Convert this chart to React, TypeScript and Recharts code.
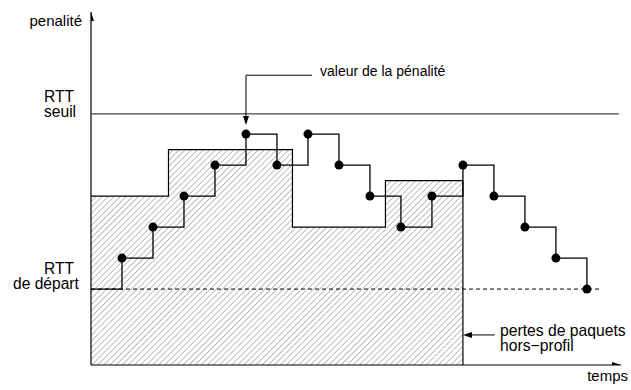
import React from 'react';
import { ComposedChart, Area, Line, Scatter, XAxis, YAxis, ReferenceLine } from 'recharts';

// time axis runs 0..17.1, penalty axis in "steps" above the starting RTT
const T_MAX = 17.1;
const Y_MIN = -2.45;
const Y_MAX = 8.94;
const RTT_START = 0;
const RTT_THRESHOLD = 5.65;

// hatched profile (stepAfter)
const profileTimes = [0, 2.5, 6.5, 9.5, 12];
const profileValues = [3, 4.5, 2, 3.5, 3.5];

// penalty value at each time step
const penaltyTimes = [0, 1, 2, 3, 4, 5, 6, 7, 8, 9, 10, 11, 12, 13, 14, 15, 16];
const penaltyValues = [0, 1, 2, 3, 4, 5, 4, 5, 4, 3, 2, 3, 4, 3, 2, 1, 0];

// arrow heads: axes ends + annotation pointers
const arrowTimes = [0, T_MAX, 5, 12];
const arrowValues = [Y_MAX, Y_MIN, 5.29, -1.48];
const arrowDirs = ['up', 'right', 'down', 'left'];

const profileData = profileTimes.map((t, i) => ({ t, v: profileValues[i] }));
const penaltyData = penaltyTimes.map((t, i) => ({ t, v: penaltyValues[i] }));
const arrowData = arrowTimes.map((t, i) => ({ t, v: arrowValues[i], dir: arrowDirs[i] }));

const FONT = '"Liberation Sans", Arial, sans-serif';

const ArrowHead = (props: any) => {
  const { cx, cy, payload } = props;
  const L = 9;
  const W = 3;
  let pts = '';
  if (payload.dir === 'up') pts = `${cx},${cy} ${cx - W},${cy + L} ${cx + W},${cy + L}`;
  if (payload.dir === 'down') pts = `${cx},${cy} ${cx - W},${cy - L} ${cx + W},${cy - L}`;
  if (payload.dir === 'right') pts = `${cx},${cy} ${cx - L},${cy - W} ${cx - L},${cy + W}`;
  if (payload.dir === 'left') pts = `${cx},${cy} ${cx + L},${cy - W} ${cx + L},${cy + W}`;
  return <polygon points={pts} fill="#000" />;
};

const PenaltyDot = (props: any) => {
  const { cx, cy, index } = props;
  if (index === 0) return <g key={`d${index}`} />;
  return <circle key={`d${index}`} cx={cx} cy={cy} r={4.5} fill="#000" />;
};

const App = () => {
  return <div style={{ position: 'absolute', left: 0, top: 0, width: 631, height: 390, background: '#fff' }}>
      <ComposedChart width={631} height={390} margin={{ top: 12, right: 10, left: 91, bottom: 25 }}>
        <defs>
          <pattern id="hatch" width="4.3" height="4.3" patternUnits="userSpaceOnUse" patternTransform="rotate(45)">
            <line x1="0" y1="0" x2="0" y2="4.3" stroke="#6a6a6a" strokeWidth={0.9} />
          </pattern>
        </defs>
        <XAxis type="number" dataKey="t" domain={[0, T_MAX]} hide allowDataOverflow />
        <YAxis type="number" dataKey="v" domain={[Y_MIN, Y_MAX]} hide allowDataOverflow />

        <Area data={profileData} dataKey="v" type="stepAfter" baseValue="dataMin" fill="url(#hatch)" fillOpacity={1} stroke="#000" strokeWidth={1.2} isAnimationActive={false} dot={false} activeDot={false} />
        <ReferenceLine segment={[{ x: 12, y: Y_MIN }, { x: 12, y: 3.5 }]} stroke="#000" strokeWidth={1.2} ifOverflow="visible" />

        {/* axes */}
        <ReferenceLine segment={[{ x: 0, y: Y_MIN }, { x: 0, y: Y_MAX }]} stroke="#000" strokeWidth={1.2} ifOverflow="visible" />
        <ReferenceLine segment={[{ x: 0, y: Y_MIN }, { x: T_MAX, y: Y_MIN }]} stroke="#000" strokeWidth={1.2} ifOverflow="visible" />

        {/* thresholds */}
        <ReferenceLine segment={[{ x: 0, y: RTT_THRESHOLD }, { x: 17.03, y: RTT_THRESHOLD }]} stroke="#444" strokeWidth={1.2} ifOverflow="visible" />
        <ReferenceLine segment={[{ x: 0, y: RTT_START }, { x: 16.4, y: RTT_START }]} stroke="#000" strokeWidth={1} strokeDasharray="4 3" ifOverflow="visible" />

        {/* annotation pointers */}
        <ReferenceLine segment={[{ x: 5, y: 6.9 }, { x: 7.13, y: 6.9 }]} stroke="#000" strokeWidth={1} ifOverflow="visible" />
        <ReferenceLine segment={[{ x: 5, y: 5.4 }, { x: 5, y: 6.9 }]} stroke="#000" strokeWidth={1} ifOverflow="visible" />
        <ReferenceLine segment={[{ x: 12.1, y: -1.48 }, { x: 13.03, y: -1.48 }]} stroke="#000" strokeWidth={1} ifOverflow="visible" />

        <Line data={penaltyData} dataKey="v" type="stepAfter" stroke="#000" strokeWidth={1.3} dot={PenaltyDot} activeDot={false} isAnimationActive={false} />
        <Scatter data={arrowData} dataKey="v" shape={ArrowHead} isAnimationActive={false} />

        <g fontFamily={FONT} fill="#000">
          <text x={82} y={26} fontSize={15} textAnchor="end">penalité</text>
          <text x={44} y={102} fontSize={15.6}>RTT</text>
          <text x={44} y={116.5} fontSize={15.6}>seuil</text>
          <text x={44} y={273.5} fontSize={15.6}>RTT</text>
          <text x={13} y={288.5} fontSize={15.6}>de départ</text>
          <text x={320} y={76} fontSize={14}>valeur de la pénalité</text>
          <text x={500} y={336} fontSize={15.7}>pertes de paquets</text>
          <text x={500} y={350.5} fontSize={15.7}>hors−profil</text>
          <text x={628} y={381} fontSize={15} textAnchor="end">temps</text>
        </g>
      </ComposedChart>
    </div>;
};

export default App;
